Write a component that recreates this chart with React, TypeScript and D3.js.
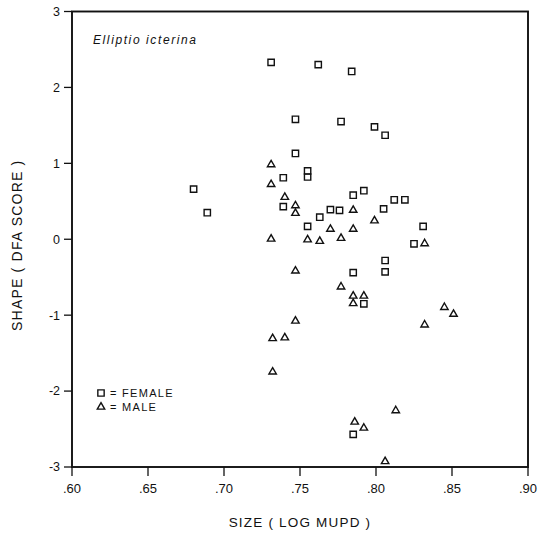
import React from 'react';
import * as d3 from 'd3';

// values
const femaleSize = [0.680, 0.689, 0.731, 0.762, 0.784, 0.747, 0.777, 0.799, 0.806, 0.747, 0.739, 0.755, 0.755, 0.785, 0.792, 0.812, 0.819, 0.739, 0.770, 0.776, 0.805, 0.763, 0.755, 0.831, 0.825, 0.806, 0.806, 0.785, 0.792, 0.785];
const femaleShape = [0.66, 0.35, 2.33, 2.30, 2.21, 1.58, 1.55, 1.48, 1.37, 1.13, 0.81, 0.90, 0.82, 0.58, 0.64, 0.52, 0.52, 0.43, 0.39, 0.38, 0.40, 0.29, 0.17, 0.17, -0.06, -0.28, -0.43, -0.44, -0.85, -2.57];

const maleSize = [0.731, 0.731, 0.740, 0.747, 0.747, 0.785, 0.799, 0.770, 0.785, 0.731, 0.755, 0.763, 0.777, 0.832, 0.747, 0.777, 0.785, 0.792, 0.785, 0.845, 0.851, 0.832, 0.747, 0.732, 0.740, 0.732, 0.813, 0.786, 0.792, 0.806];
const maleShape = [0.99, 0.73, 0.56, 0.45, 0.35, 0.39, 0.25, 0.14, 0.14, 0.01, 0.00, -0.02, 0.02, -0.05, -0.41, -0.62, -0.74, -0.74, -0.84, -0.89, -0.98, -1.12, -1.07, -1.30, -1.29, -1.74, -2.25, -2.40, -2.48, -2.92];

const xTicks = [0.60, 0.65, 0.70, 0.75, 0.80, 0.85, 0.90];
const xTickLabels = ['.60', '.65', '.70', '.75', '.80', '.85', '.90'];
const yTicks = [3, 2, 1, 0, -1, -2, -3];

const W = 540;
const H = 533;
const font = '"Liberation Sans", Arial, sans-serif';

export default function App() {
  const x = d3.scaleLinear().domain([0.6, 0.9]).range([72, 528]);
  const y = d3.scaleLinear().domain([-3, 3]).range([467, 11.5]);

  const square = d3.symbol().type(d3.symbolSquare).size(40)() as string;
  const triangle = d3.symbol().type(d3.symbolTriangle).size(24)() as string;

  const [x0, x1] = x.range();
  const [y0, y1] = y.range();

  return (
    <svg width={W} height={H} style={{ position: 'absolute', left: 0, top: 0, background: '#fff' }}
      fontFamily={font}>
      {/* frame */}
      <rect x={x0} y={y1} width={x1 - x0} height={y0 - y1} fill="none" stroke="#111" strokeWidth={1.9} />

      {/* y ticks */}
      {yTicks.map(t => (
        <g key={'y' + t}>
          <line x1={x0 - 8} x2={x0} y1={y(t)} y2={y(t)} stroke="#111" strokeWidth={1.3} />
          <text x={x0 - 12} y={y(t)} dy="0.35em" textAnchor="end" fontSize={12.5} fill="#111">
            {t < 0 ? '-' + Math.abs(t) : t}
          </text>
        </g>
      ))}

      {/* x ticks */}
      {xTicks.map((t, i) => (
        <g key={'x' + t}>
          <line x1={x(t)} x2={x(t)} y1={y0} y2={y0 + 9} stroke="#111" strokeWidth={1.3} />
          <text x={x(t)} y={y0 + 26} textAnchor="middle" fontSize={13} fill="#111">
            {xTickLabels[i]}
          </text>
        </g>
      ))}

      {/* axis titles */}
      <text x={(x0 + x1) / 2} y={527} textAnchor="middle" fontSize={13.5} letterSpacing={1.2} fill="#111">
        SIZE ( LOG MUPD )
      </text>
      <text transform={`translate(22,${(y0 + y1) / 2 + 6}) rotate(-90)`} textAnchor="middle" fontSize={14}
        letterSpacing={1.2} fill="#111">
        SHAPE ( DFA SCORE )
      </text>

      {/* species */}
      <text x={93} y={44} fontSize={12} fontStyle="italic" letterSpacing={1.6} fill="#111">
        Elliptio icterina
      </text>

      {/* legend */}
      <path d={square} transform="translate(101,393)" fill="none" stroke="#111" strokeWidth={1.4} />
      <text x={110} y={393} dy="0.35em" fontSize={11} letterSpacing={1.3} fill="#111">= FEMALE</text>
      <path d={triangle} transform="translate(101,407)" fill="none" stroke="#111" strokeWidth={1.4} />
      <text x={110} y={407} dy="0.35em" fontSize={11} letterSpacing={1.3} fill="#111">= MALE</text>

      {/* points */}
      {femaleSize.map((s, i) => (
        <path key={'f' + i} d={square} transform={`translate(${x(s)},${y(femaleShape[i])})`}
          fill="none" stroke="#111" strokeWidth={1.4} />
      ))}
      {maleSize.map((s, i) => (
        <path key={'m' + i} d={triangle} transform={`translate(${x(s)},${y(maleShape[i]) + 0.5})`}
          fill="none" stroke="#111" strokeWidth={1.4} />
      ))}
    </svg>
  );
}
